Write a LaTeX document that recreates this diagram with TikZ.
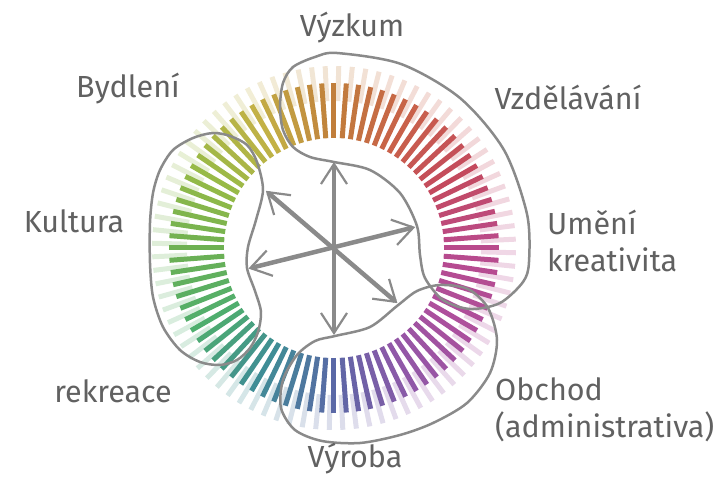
\documentclass[tikz,border=0pt]{standalone}
\usepackage{fontspec}
\setmainfont{Fira Sans}
\usetikzlibrary{arrows.meta}
\definecolor{ringgray}{HTML}{8A8A8A}
\definecolor{labelgray}{HTML}{616161}
\definecolor{hue0}{HTML}{C17E3B}
\definecolor{hue1}{HTML}{C9614A}
\definecolor{hue2}{HTML}{C44A5E}
\definecolor{hue3}{HTML}{B94A8C}
\definecolor{hue4}{HTML}{AE4F9C}
\definecolor{hue5}{HTML}{9058A8}
\definecolor{hue6}{HTML}{5A68A6}
\definecolor{hue7}{HTML}{3F8D96}
\definecolor{hue8}{HTML}{4FAE6E}
\definecolor{hue9}{HTML}{6EB152}
\definecolor{hue10}{HTML}{98BA47}
\definecolor{hue11}{HTML}{C3B146}
\definecolor{hue12}{HTML}{C17E3B}

\begin{document}
\begin{tikzpicture}[
    x=1pt, y=1pt,
    label/.style={text=labelgray, font=\fontsize{30.5}{37}\selectfont, inner sep=0pt},
    blob/.style={draw=ringgray, line width=2.5pt},
    axis/.style={draw=ringgray, line width=4.5pt,
      {Straight Barb[length=20pt, width=26pt, line width=2.2pt]}-{Straight Barb[length=20pt, width=26pt, line width=2.2pt]}},
]
\useasboundingbox (-334,-255) rectangle (386,248);

% Light outer bars
\foreach \i in {0,...,83} {
  \pgfmathsetmacro{\ang}{90-360/84*\i}
  \pgfmathsetmacro{\pos}{360/84*\i/30}
  \pgfmathtruncatemacro{\k}{floor(\pos)}
  \pgfmathtruncatemacro{\kk}{\k+1}
  \pgfmathtruncatemacro{\mix}{100*(1-(\pos-\k))}
  \colorlet{barcol}{hue\k!\mix!hue\kk}
  \draw[barcol!22!white, line width=5pt] (\ang-1.5:147) -- (\ang-1.5:182);
}

% Dark bars
\foreach \i in {0,...,83} {
  \pgfmathsetmacro{\ang}{90-360/84*\i}
  \pgfmathsetmacro{\pos}{360/84*\i/30}
  \pgfmathtruncatemacro{\k}{floor(\pos)}
  \pgfmathtruncatemacro{\kk}{\k+1}
  \pgfmathtruncatemacro{\mix}{100*(1-(\pos-\k))}
  \colorlet{barcol}{hue\k!\mix!hue\kk}
  \draw[barcol, line width=5pt] (\ang:110) -- (\ang:165);
}

% Groups
\draw[blob] plot[smooth cycle] coordinates {(0,86) (36,78) (66,55) (83,22) (86,-7)
  (91,-30) (109,-52) (136,-61) (166,-55) (189,-34) (195,-14)
  (193,34) (170,98) (126,150) (67,184) (3,195)
  (-19,191) (-41,181) (-51,165) (-54,141) (-51,118) (-41,101) (-24,91)};
\draw[blob] plot[smooth cycle] coordinates {(-121,115) (-104,112) (-87,103) (-77,86)
  (-71,58) (-78,28) (-86,1) (-87,-20) (-79,-43) (-73,-64) (-76,-84) (-84,-100)
  (-97,-112) (-114,-117) (-134,-114) (-154,-102) (-171,-79) (-181,-49)
  (-184,-15) (-184,25) (-181,55) (-174,78) (-161,98) (-141,110)};
\draw[blob] plot[smooth cycle] coordinates {(1,-88) (36,-79) (63,-58) (83,-43)
  (106,-37) (134,-41) (154,-60) (163,-92) (156,-125) (133,-155) (99,-175)
  (66,-187) (26,-195) (-12,-193) (-39,-182) (-53,-160) (-51,-132) (-37,-107) (-19,-93)};

% Axes
\coordinate (hub) at (0,0);
\coordinate (tipN) at (90:86);
\coordinate (tipS) at (270:87);
\coordinate (tipE) at (14.5:84);
\coordinate (tipW) at (193.5:88);
\coordinate (tipNW) at (140:89);
\coordinate (tipSE) at (-41:84);
\draw[axis] (tipN) -- (tipS);
\draw[axis] (tipE) -- (tipW);
\draw[axis] (tipNW) -- (tipSE);

% Labels
\node[label, anchor=base] (vyzkum) at (18,211) {Výzkum};
\node[label, anchor=base] (vzdel) at (234,138) {Vzdělávání};
\node[label, anchor=base] (bydleni) at (-206,150) {Bydlení};
\node[label, anchor=base] (kultura) at (-260,15) {Kultura};
\node[label, anchor=west, align=left] (umeni) at (213,7) {Umění\\kreativita};
\node[label, anchor=west, align=left] (obchod) at (161,-162) {Obchod\\(administrativa)};
\node[label, anchor=base] (rekreace) at (-221,-154) {rekreace};
\node[label, anchor=base] (vyroba) at (21,-219) {Výroba};

\end{tikzpicture}
\end{document}
